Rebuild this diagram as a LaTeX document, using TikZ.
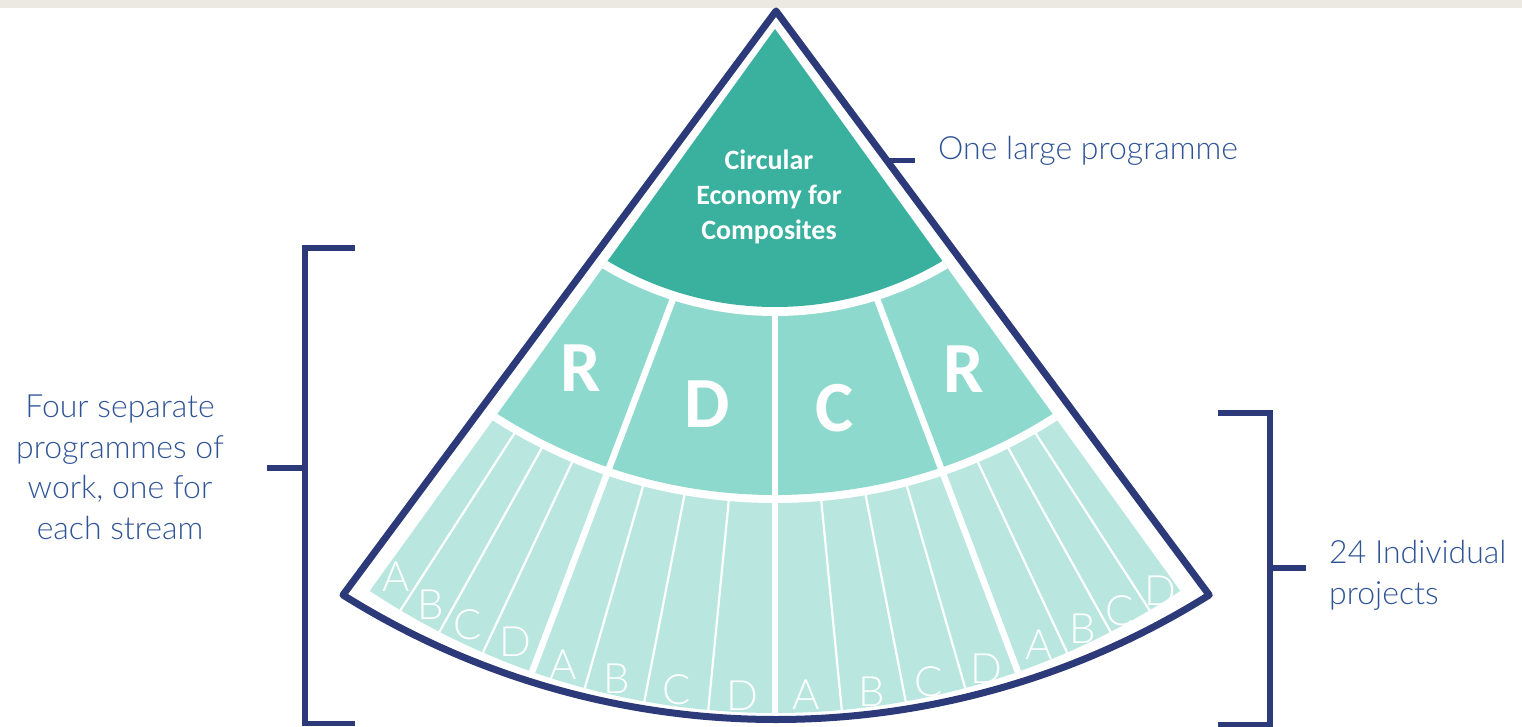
\documentclass[tikz,border=0pt]{standalone}
\usepackage{fontspec}
\usetikzlibrary{calc}

% light face for captions and project letters, Carlito as fallback
\IfFontExistsTF{Lato Light}{%
  \newfontfamily\thinfont{Lato Light}%
  \def\lblsz{32}\def\prjsz{41.8}%
}{%
  \newfontfamily\thinfont{Carlito}%
  \def\lblsz{33.7}\def\prjsz{46.6}%
}
\newfontfamily\heavyfont{Carlito}

\definecolor{navyline}{HTML}{2C3A7A}
\definecolor{labelblue}{HTML}{2F5496}
\definecolor{tealdark}{HTML}{3AB09E}
\definecolor{tealmid}{HTML}{8ED9CE}
\definecolor{tealpale}{HTML}{B9E7E0}
\definecolor{stripgray}{HTML}{ECE9E3}

\begin{document}
\begin{tikzpicture}[x=1pt,y=-1pt,
  frame/.style={draw=navyline,line width=7pt,line join=round},
  bracket/.style={draw=navyline,line width=5.5pt},
  thinsep/.style={draw=white,line width=2.2pt},
  thicksep/.style={draw=white,line width=6.5pt},
  caption/.style={text=labelblue,inner sep=0pt,font=\thinfont\fontsize{\lblsz}{\lblsz}\selectfont},
  hub/.style={text=white,inner sep=0pt,font=\heavyfont\bfseries\fontsize{28}{28}\selectfont},
  stream/.style={text=white,inner sep=0pt,font=\heavyfont\bfseries\fontsize{72}{72}\selectfont},
  project/.style={text=white,inner sep=0pt,font=\thinfont\fontsize{\prjsz}{\prjsz}\selectfont},
]
\useasboundingbox (0,0) rectangle (1522,727);
\fill[stripgray] (0,0) rectangle (1522,8);

% fan: apex of the wedge and centre of the ring arcs
\coordinate (P) at (775,29);
\coordinate (O) at (775,-20);

\begin{scope}
  \clip (P) -- ($(P)+(54.2:900)$) -- ($(P)+(125.8:900)$) -- cycle;
  % outer ring: 16 projects
  \fill[tealpale] (O) circle[radius=733];
  \foreach \a in {57.2,60.9,64.9,73.9,79.0,84.4,95.6,101.0,106.1,115.1,119.1,122.8}
    \draw[thinsep] (P) -- ++(\a:900);
  % middle ring: four streams
  \fill[white] (O) circle[radius=523];
  \fill[tealmid] (O) circle[radius=515];
  \foreach \a in {69.3,90,110.7}
    \draw[thicksep] (P) -- ++(\a:900);
  % core: the programme
  \fill[white] (O) circle[radius=336];
  \fill[tealdark] (O) circle[radius=327];
\end{scope}

% outline of the fan
\coordinate (T) at (776,11);
\coordinate (L) at (343,595);
\draw[frame] (T) -- (L) arc[start angle=122.08,end angle=57.92,radius=815.5] -- cycle;

% core label
\node[hub,anchor=base] (hub1) at (769,170) {Circular};
\node[hub,anchor=base] (hub2) at (769,205) {Economy for};
\node[hub,anchor=base] (hub3) at (769,240) {Composites};

% stream letters
\node[stream] (s1) at (581,368.3) {R};
\node[stream] (s2) at (706.7,404.2) {D};
\node[stream] (s3) at (834.7,408) {C};
\node[stream] (s4) at (963.8,369) {R};

% project letters
\node[project] (p1a) at (396.5,576.7) {A};
\node[project] (p1b) at (430.8,604.7) {B};
\node[project] (p1c) at (468,625) {C};
\node[project] (p1d) at (515.3,641.7) {D};
\node[project] (p2a) at (563.3,665) {A};
\node[project] (p2b) at (616.7,679.2) {B};
\node[project] (p2c) at (676.7,690) {C};
\node[project] (p2d) at (742.5,695.8) {D};
\node[project] (p3a) at (805.8,694.7) {A};
\node[project] (p3b) at (871.2,691.3) {B};
\node[project] (p3c) at (928.7,681.7) {C};
\node[project] (p3d) at (986.2,668.7) {D};
\node[project] (p4a) at (1039.2,644.3) {A};
\node[project] (p4b) at (1082.5,628.7) {B};
\node[project] (p4c) at (1120,610.8) {C};
\node[project] (p4d) at (1160,590.5) {D};

% programme pointer
\coordinate (tk1) at (887,160.5);
\coordinate (tk2) at (915,160.5);
\draw[navyline,line width=5pt] (tk1) -- (tk2);
\node[caption,anchor=base west] (top) at (938,160) {One large programme};

% left bracket: streams
\coordinate (lb1) at (355,248);
\coordinate (lb2) at (305,248);
\coordinate (lb3) at (305,723.5);
\coordinate (lb4) at (355,723.5);
\coordinate (lbm) at (305,468);
\coordinate (lbt) at (267,468);
\draw[bracket] (lb1) -- (lb2) -- (lb3) -- (lb4);
\draw[bracket] (lbm) -- (lbt);
\node[caption,anchor=base] (lt1) at (120,417.3) {Four separate};
\node[caption,anchor=base] (lt2) at (120,458.3) {programmes of};
\node[caption,anchor=base] (lt3) at (120,498.8) {work, one for};
\node[caption,anchor=base] (lt4) at (120,539.3) {each stream};

% right bracket: projects
\coordinate (rb1) at (1218,413);
\coordinate (rb2) at (1270,413);
\coordinate (rb3) at (1270,725);
\coordinate (rb4) at (1218,725);
\coordinate (rbm) at (1270,568);
\coordinate (rbt) at (1306,568);
\draw[bracket] (rb1) -- (rb2) -- (rb3) -- (rb4);
\draw[bracket] (rbm) -- (rbt);
\node[caption,anchor=base west] (rt1) at (1329,563.5) {24 Individual};
\node[caption,anchor=base west] (rt2) at (1329,604) {projects};
\end{tikzpicture}
\end{document}
